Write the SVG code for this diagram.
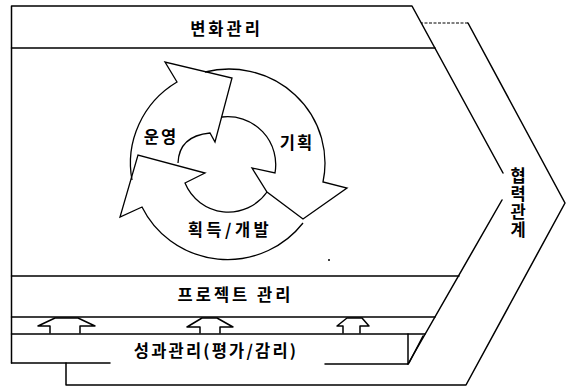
<svg xmlns="http://www.w3.org/2000/svg" width="574" height="389" viewBox="0 0 574 389">
<style>
.ln{fill:none;stroke:#000;stroke-width:1.5;stroke-linecap:round;stroke-linejoin:round}
.cy{fill:none;stroke:#000;stroke-width:1.3;stroke-linejoin:miter}
.t{font-family:"Noto Sans CJK KR","Noto Sans",sans-serif;font-weight:bold;font-size:16.5px;fill:#000}
</style>
<rect width="574" height="389" fill="#fff"/>
<g id="frame">
<path class="ln" d="M11.5 363 V6 H412 L503 173"/>
<path class="ln" d="M502 200 L408 364"/>
<path class="ln" d="M423 336 L409 363" stroke-width="1"/>
</g>
<g id="change-mgmt">
<path class="ln" d="M11.5 48 H435"/>
<text class="t" x="226.5" y="35" text-anchor="middle" letter-spacing="3">변화관리</text>
</g>
<g id="project-mgmt">
<path class="ln" d="M11.5 276 H459"/>
<path class="ln" d="M11.5 317 H435"/>
<text class="t" x="235.5" y="301" text-anchor="middle" letter-spacing="3">프로젝트 관리</text>
</g>
<g id="performance-mgmt">
<path class="ln" d="M11.5 334 H425"/>
<path class="ln" d="M408 334 V364"/>
<path class="ln" d="M11.5 363 H110"/>
<path class="ln" d="M325 364 H408"/>
<text class="t" x="216" y="357" text-anchor="middle" letter-spacing="2.2">성과관리(평가/감리)</text>
</g>
<g id="partnership">
<path class="ln" d="M66 363 V385 H466 L565 203 L468 23"/>
<path d="M468 23 H421" fill="none" stroke="#000" stroke-width="1" stroke-dasharray="3 1.5"/>
<text class="t" x="518" y="167" writing-mode="vertical-rl" letter-spacing="1.5">협력관계</text>
</g>
<g id="cycle">
<g id="operation">
<path class="cy" d="M132 180 A97 95 0 0 1 177 82 L165 62 L232 78 L215 142 L210 133 Q179 136 178 163"/>
<text class="t" x="161" y="143" text-anchor="middle" letter-spacing="2">운영</text>
</g>
<g id="planning">
<path class="cy" d="M205 72 A96 94 0 0 1 323 182 L347 188 L303 219 L267 192 L252 168 L275 173 A48 48 0 0 0 222 117"/>
<text class="t" x="297" y="148.5" text-anchor="middle" letter-spacing="2">기획</text>
</g>
<g id="acquisition">
<path class="cy" d="M303 223 A95 93 0 0 1 142 207 L120 217 L138 155 L205 173 L185 183 A47 47 0 0 0 267 192"/>
<text class="t" x="230" y="236" text-anchor="middle" letter-spacing="3.5">획득/개발</text>
</g>
</g>
<g id="connectors">
<path class="ln" stroke-width="1.3" d="M50 333 V326 H38 L55 318 H78 L95 326 H80 V333"/>
<path class="ln" stroke-width="1.3" d="M200 333 V327 H187 L202 318 H217 L233 327 H220 V333"/>
<path class="ln" stroke-width="1.3" d="M343 333 V326 H337 L347 318 H362 L369 326 H360 V333"/>
</g>
<circle cx="329" cy="260" r="1" fill="#000"/>
</svg>
